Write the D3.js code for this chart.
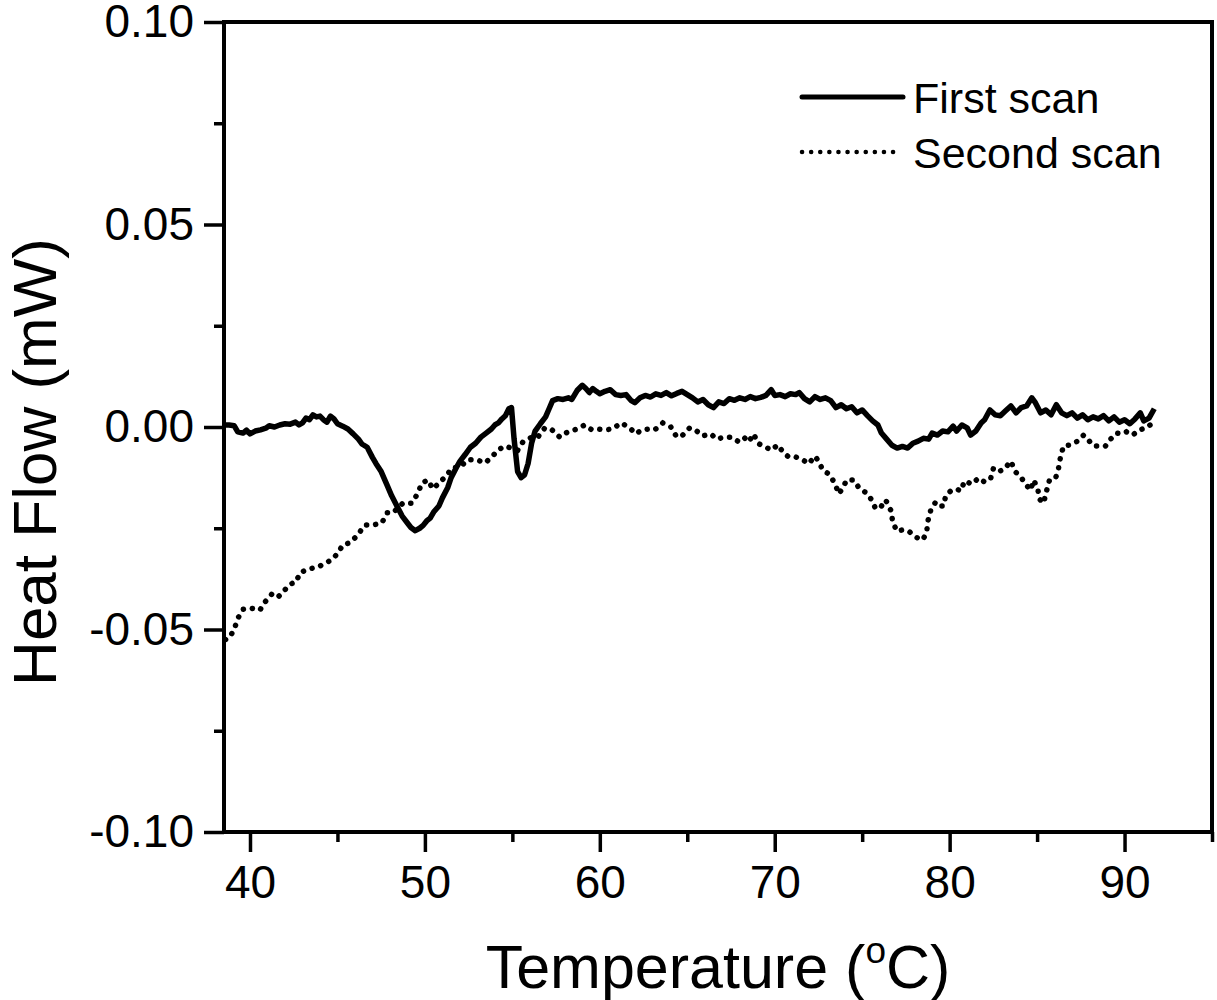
<!DOCTYPE html>
<html>
<head>
<meta charset="utf-8">
<script src="https://cdn.jsdelivr.net/npm/d3@7"></script>
<style>
  body { margin: 0; background: #fff; }
  svg { display: block; font-family: "Liberation Sans", Arial, sans-serif; }
</style>
</head>
<body>
<svg id="chart" width="1217" height="1000"></svg>
<script>
// first scan (solid), temperature in °C / heat flow in mW
const firstT = [38.5, 38.8, 39.1, 39.3, 39.6, 39.8, 40.0, 40.3, 40.6, 40.9, 41.1, 41.4, 41.7, 42.0, 42.3, 42.6, 42.8,
  43.0, 43.2, 43.4, 43.6, 43.8, 44.0, 44.2, 44.4, 44.6, 44.8, 45.0, 45.3, 45.6, 45.9, 46.2, 46.4, 46.7, 47.0,
  47.2, 47.5, 47.8, 48.1, 48.4, 48.7, 49.0, 49.2, 49.45, 49.7, 49.9, 50.1, 50.3, 50.5, 50.8, 51.0, 51.3, 51.5,
  51.8, 52.0, 52.3, 52.6, 52.9, 53.2, 53.5, 53.8, 54.0, 54.2, 54.4, 54.6, 54.8, 54.95, 55.1, 55.3, 55.5, 55.7,
  55.9, 56.1, 56.3, 56.6, 56.9, 57.1, 57.3, 57.6, 57.9, 58.2, 58.4, 58.7, 59.0, 59.2, 59.4, 59.6, 59.8, 60.0,
  60.3, 60.6, 60.9, 61.2, 61.5, 61.8, 62.0, 62.3, 62.6, 62.9, 63.2, 63.5, 63.8, 64.1, 64.4, 64.7, 65.0, 65.3,
  65.6, 65.9, 66.2, 66.5, 66.8, 67.1, 67.4, 67.7, 68.0, 68.3, 68.6, 68.9, 69.2, 69.5, 69.8, 70.0, 70.3, 70.6,
  70.9, 71.2, 71.4, 71.7, 72.0, 72.3, 72.6, 72.9, 73.2, 73.5, 73.8, 74.1, 74.4, 74.7, 75.0, 75.3, 75.6, 75.9,
  76.1, 76.4, 76.7, 77.0, 77.3, 77.6, 77.9, 78.2, 78.5, 78.8, 79.0, 79.3, 79.6, 79.9, 80.2, 80.4, 80.7, 81.0,
  81.2, 81.5, 81.8, 82.0, 82.3, 82.6, 82.9, 83.2, 83.5, 83.8, 84.1, 84.4, 84.7, 84.9, 85.2, 85.5, 85.8, 86.1,
  86.4, 86.7, 87.0, 87.3, 87.6, 87.9, 88.2, 88.5, 88.8, 89.1, 89.4, 89.7, 90.0, 90.3, 90.6, 90.9, 91.1, 91.4, 91.7];
const firstHF = [0.0005, 0.0005, 0.0003, -0.0012, -0.0015, -0.0008, -0.0017, -0.0010, -0.0007, -0.0003, 0.0003, 0.0000, 0.0005, 0.0008, 0.0007, 0.0012, 0.0005,
  0.0010, 0.0022, 0.0018, 0.0030, 0.0025, 0.0027, 0.0018, 0.0012, 0.0027, 0.0020, 0.0008, 0.0002, -0.0005, -0.0017, -0.0030, -0.0042, -0.0050, -0.0075,
  -0.0090, -0.0110, -0.0140, -0.0170, -0.0195, -0.0220, -0.0237, -0.0248, -0.0256, -0.0250, -0.0243, -0.0232, -0.0225, -0.0210, -0.0195, -0.0175, -0.0150, -0.0125,
  -0.0100, -0.0085, -0.0068, -0.0050, -0.0040, -0.0025, -0.0015, -0.0005, 0.0005, 0.0010, 0.0020, 0.0028, 0.0045, 0.0048, -0.0030, -0.0110, -0.0125, -0.0118,
  -0.0090, -0.0040, -0.0010, 0.0008, 0.0025, 0.0045, 0.0065, 0.0070, 0.0068, 0.0072, 0.0068, 0.0090, 0.0103, 0.0095, 0.0085, 0.0095, 0.0088, 0.0082,
  0.0088, 0.0092, 0.0080, 0.0078, 0.0080, 0.0065, 0.0060, 0.0072, 0.0078, 0.0074, 0.0082, 0.0078, 0.0085, 0.0077, 0.0083, 0.0088, 0.0080, 0.0072,
  0.0062, 0.0068, 0.0055, 0.0048, 0.0062, 0.0058, 0.0070, 0.0066, 0.0072, 0.0068, 0.0075, 0.0070, 0.0073, 0.0078, 0.0092, 0.0078, 0.0080, 0.0075,
  0.0082, 0.0080, 0.0085, 0.0070, 0.0062, 0.0075, 0.0068, 0.0072, 0.0065, 0.0048, 0.0055, 0.0045, 0.0050, 0.0035, 0.0042, 0.0028, 0.0015, 0.0005,
  -0.0015, -0.0030, -0.0045, -0.0052, -0.0048, -0.0052, -0.0040, -0.0035, -0.0028, -0.0030, -0.0015, -0.0020, -0.0010, -0.0012, 0.0002, -0.0010, 0.0005, -0.0002,
  -0.0020, -0.0010, 0.0010, 0.0018, 0.0042, 0.0030, 0.0028, 0.0040, 0.0052, 0.0035, 0.0048, 0.0052, 0.0072, 0.0060, 0.0035, 0.0042, 0.0030, 0.0055,
  0.0035, 0.0028, 0.0035, 0.0022, 0.0030, 0.0018, 0.0025, 0.0020, 0.0028, 0.0015, 0.0025, 0.0012, 0.0018, 0.0008, 0.0020, 0.0035, 0.0015, 0.0022, 0.0045];

// second scan (dotted)
const secondT = [38.60, 38.86, 39.14, 39.31, 39.60, 40.00, 40.57, 40.86, 41.26, 41.60, 41.89, 42.29, 42.63, 42.86,
  43.31, 43.89, 44.29, 44.69, 45.03, 45.31, 45.71, 46.11, 46.57, 47.03, 47.54, 47.83, 48.17, 48.74, 49.26,
  49.60, 49.83, 50.17, 50.46, 50.86, 51.26, 51.54, 52.00, 52.46, 52.97, 53.43, 53.83, 54.17, 54.57, 55.31,
  55.60, 56.11, 56.46, 56.86, 57.26, 57.71, 58.17, 58.69, 59.14, 59.54, 59.89, 60.23, 60.74, 61.20, 61.66,
  62.06, 62.40, 62.86, 63.14, 63.60, 64.06, 64.40, 64.74, 65.14, 65.54, 65.89, 66.34, 66.69, 67.09, 67.54,
  67.89, 68.23, 68.51, 68.80, 69.03, 69.43, 69.83, 70.17, 70.51, 70.80, 71.20, 71.60, 71.94, 72.29, 72.51,
  72.74, 73.09, 73.43, 73.66, 73.89, 74.11, 74.51, 74.86, 75.26, 75.54, 75.77, 76.06, 76.34, 76.63, 76.74,
  76.97, 77.31, 77.66, 78.06, 78.46, 78.69, 78.74, 78.91, 79.20, 79.49, 79.66, 79.77, 80.06, 80.40, 80.63,
  80.86, 81.26, 81.66, 82.00, 82.34, 82.51, 82.86, 83.14, 83.49, 83.77, 84.11, 84.34, 84.63, 84.80, 85.03,
  85.14, 85.37, 85.54, 85.71, 86.06, 86.23, 86.34, 86.51, 86.91, 87.31, 87.66, 87.89, 88.23, 88.51, 88.91,
  89.20, 89.54, 89.83, 90.11, 90.46, 90.86, 91.26, 91.60];
const secondHF = [-0.0525, -0.0519, -0.0494, -0.0472, -0.0450, -0.0447, -0.0452, -0.0432, -0.0412, -0.0420, -0.0407, -0.0388, -0.0383, -0.0360,
  -0.0351, -0.0346, -0.0336, -0.0328, -0.0311, -0.0291, -0.0286, -0.0269, -0.0242, -0.0242, -0.0237, -0.0212, -0.0212, -0.0188, -0.0188,
  -0.0163, -0.0138, -0.0131, -0.0153, -0.0136, -0.0119, -0.0101, -0.0099, -0.0081, -0.0081, -0.0089, -0.0074, -0.0057, -0.0047, -0.0057,
  -0.0037, -0.0025, -0.0025, -0.0002, -0.0007, -0.0025, -0.0012, -0.0005, 0.0005, -0.0007, -0.0005, -0.0007, -0.0005, 0.0010, 0.0000,
  -0.0017, -0.0007, -0.0005, -0.0007, 0.0010, 0.0000, -0.0025, -0.0020, -0.0002, -0.0010, -0.0022, -0.0017, -0.0030, -0.0025, -0.0025,
  -0.0035, -0.0025, -0.0037, -0.0017, -0.0040, -0.0049, -0.0057, -0.0044, -0.0064, -0.0074, -0.0074, -0.0081, -0.0091, -0.0072, -0.0084,
  -0.0106, -0.0116, -0.0138, -0.0165, -0.0151, -0.0131, -0.0131, -0.0153, -0.0163, -0.0180, -0.0202, -0.0198, -0.0180, -0.0205, -0.0232,
  -0.0257, -0.0254, -0.0257, -0.0272, -0.0279, -0.0260, -0.0235, -0.0207, -0.0185, -0.0195, -0.0195, -0.0170, -0.0158, -0.0153, -0.0158,
  -0.0133, -0.0141, -0.0126, -0.0136, -0.0128, -0.0101, -0.0109, -0.0104, -0.0084, -0.0111, -0.0126, -0.0141, -0.0156, -0.0131, -0.0151,
  -0.0178, -0.0188, -0.0158, -0.0131, -0.0126, -0.0101, -0.0074, -0.0047, -0.0044, -0.0035, -0.0020, -0.0030, -0.0047, -0.0047, -0.0047,
  -0.0030, -0.0015, -0.0017, -0.0012, -0.0020, -0.0007, -0.0002, 0.0010];

const xMajor = [40, 50, 60, 70, 80, 90];
const xMinor = [45, 55, 65, 75, 85, 95];
const yMajor = [-0.10, -0.05, 0.00, 0.05, 0.10];
const yMinor = [-0.075, -0.025, 0.025, 0.075];
const seriesNames = ["First scan", "Second scan"];

const svg = d3.select("#chart");
const plotL = 224, plotT = 22, plotR = 1212, plotB = 832;

const x = d3.scaleLinear().domain([38.514, 95]).range([plotL, plotR]);
const y = d3.scaleLinear().domain([-0.1, 0.1]).range([plotB, plotT]);

// curves
const line = d3.line().x(d => x(d[0])).y(d => y(d[1]));

svg.append("path")
    .datum(secondT.map((t, i) => [t, secondHF[i]]))
    .attr("d", line)
    .attr("fill", "none")
    .attr("stroke", "#000")
    .attr("stroke-width", 5.5)
    .attr("stroke-linecap", "round")
    .attr("stroke-dasharray", "0.1 9");

svg.append("path")
    .datum(firstT.map((t, i) => [t, firstHF[i]]))
    .attr("d", line)
    .attr("fill", "none")
    .attr("stroke", "#000")
    .attr("stroke-width", 5.5)
    .attr("stroke-linejoin", "round");

// axes
function styleAxis(g) {
  g.select(".domain").remove();
  g.selectAll(".tick line").attr("stroke", "#000").attr("stroke-width", 3.5);
  g.selectAll(".tick text").attr("fill", "#000").style("font-size", "46px");
}

svg.append("g")
    .attr("transform", `translate(0,${plotB})`)
    .call(d3.axisBottom(x).tickValues(xMinor).tickSize(10).tickFormat(""))
    .call(styleAxis);

svg.append("g")
    .attr("transform", `translate(0,${plotB})`)
    .call(d3.axisBottom(x).tickValues(xMajor).tickSize(20).tickPadding(13).tickFormat(d3.format("d")))
    .call(styleAxis)
    .call(g => g.selectAll(".tick text").attr("dy", "0.71em"));

svg.append("g")
    .attr("transform", `translate(${plotL},0)`)
    .call(d3.axisLeft(y).tickValues(yMinor).tickSize(10).tickFormat(""))
    .call(styleAxis);

svg.append("g")
    .attr("transform", `translate(${plotL},0)`)
    .call(d3.axisLeft(y).tickValues(yMajor).tickSize(20).tickPadding(10).tickFormat(d => d.toFixed(2)))
    .call(styleAxis);

// frame
svg.append("rect")
    .attr("x", plotL).attr("y", plotT)
    .attr("width", plotR - plotL).attr("height", plotB - plotT)
    .attr("fill", "none")
    .attr("stroke", "#000")
    .attr("stroke-width", 4);

// axis titles
const xt = svg.append("text")
    .attr("x", (plotL + plotR) / 2)
    .attr("y", 988)
    .attr("text-anchor", "middle")
    .style("font-size", "61px");
xt.append("tspan").text("Temperature (");
xt.append("tspan").text("o").style("font-size", "37px").attr("dy", "-25");
xt.append("tspan").text("C)").attr("dy", "25");

svg.append("text")
    .attr("transform", "translate(56,462) rotate(-90)")
    .attr("text-anchor", "middle")
    .style("font-size", "62px")
    .text("Heat Flow (mW)");

// legend
const legend = svg.append("g");
seriesNames.forEach((name, i) => {
  const ly = 97 + i * 55;
  legend.append("line")
      .attr("x1", 802).attr("x2", i === 0 ? 903 : 895)
      .attr("y1", ly).attr("y2", ly)
      .attr("stroke", "#000")
      .attr("stroke-width", i === 0 ? 5 : 4.5)
      .attr("stroke-linecap", "round")
      .attr("stroke-dasharray", i === 0 ? null : "0.1 9");
  legend.append("text")
      .attr("x", 913).attr("y", ly + 16)
      .style("font-size", "43px")
      .text(name);
});
</script>
</body>
</html>
